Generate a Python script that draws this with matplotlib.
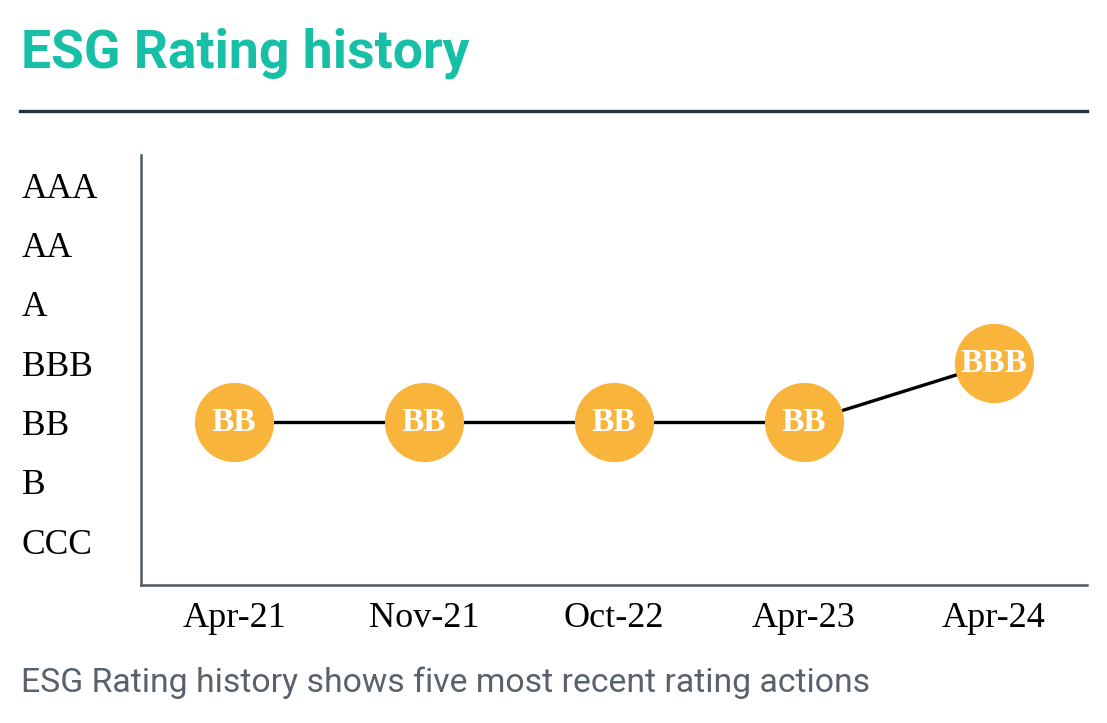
import numpy as np
import matplotlib
matplotlib.use("Agg")
import matplotlib.pyplot as plt
from matplotlib.lines import Line2D

# rating scale, lowest first
rating_scale = ["CCC", "B", "BB", "BBB", "A", "AA", "AAA"]
dates = ["Apr-21", "Nov-21", "Oct-22", "Apr-23", "Apr-24"]
ratings = ["BB", "BB", "BB", "BB", "BBB"]

title_color = "#16bfa6"
dot_color = "#f9b43c"
rule_color = "#25313b"
spine_color = "#4e5a62"

fig = plt.figure(figsize=(11.07, 7.23), dpi=100)
ax = fig.add_axes([0.1274, 0.1909, 0.8546, 0.5947])

x = np.arange(len(dates))
y = np.array([rating_scale.index(r) for r in ratings])

ax.plot(x, y, color="black", lw=2.4, zorder=1)
ax.plot(x, y, "o", ms=57, color=dot_color, mec="none", zorder=2)
for xi, yi, r in zip(x, y, ratings):
    ax.text(xi, yi, r, ha="center", va="center", color="white",
            family="Liberation Serif", weight="bold", fontsize=24, zorder=3)

ax.set_xlim(-0.49, 4.49)
ax.set_ylim(-0.74, 6.51)
ax.set_xticks(x)
ax.set_xticklabels(dates, family="Liberation Serif", fontsize=26)
ax.set_yticks(np.arange(len(rating_scale)))
ax.set_yticklabels(rating_scale, family="Liberation Serif", fontsize=25.5, ha="left")
ax.tick_params(axis="y", length=0, pad=86)
ax.tick_params(axis="x", length=0, pad=12)
for s in ["top", "right"]:
    ax.spines[s].set_visible(False)
for s in ["left", "bottom"]:
    ax.spines[s].set_color(spine_color)
    ax.spines[s].set_linewidth(1.8)

# title, rule and caption
fig.text(0.019, 0.906, "ESG Rating history", family="Roboto", weight="bold",
         fontsize=38.5, color=title_color, ha="left", va="baseline")
fig.add_artist(Line2D([0.018, 0.982], [0.847, 0.847], color=rule_color, lw=2.4))
fig.text(0.019, 0.043, "ESG Rating history shows five most recent rating actions",
         family="Roboto", fontsize=24.3, color="#59616a", ha="left", va="baseline")

fig.savefig("out.png", dpi=100)
